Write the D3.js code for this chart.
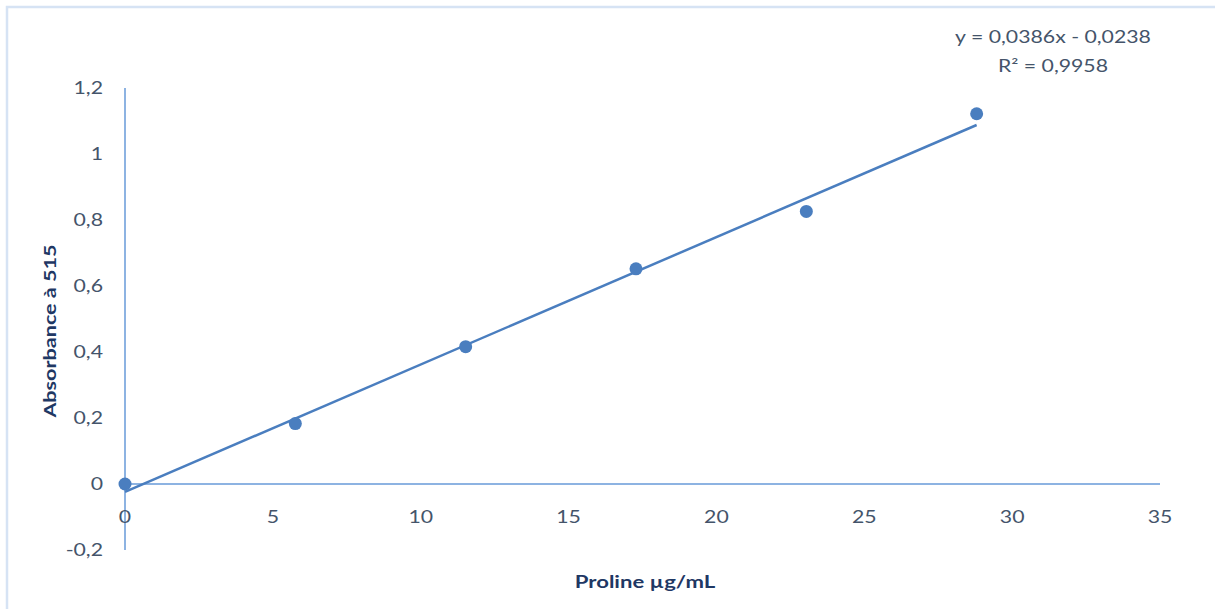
<!DOCTYPE html>
<html><head><meta charset="utf-8">
<script src="https://cdn.jsdelivr.net/npm/d3@7"></script>
<style>body{margin:0;background:#fff}</style>
</head><body>
<script>
const concentrations = [0, 5.76, 11.52, 17.28, 23.04, 28.8];
const absorbance = [0, 0.183, 0.416, 0.652, 0.826, 1.122];
const xTicks = [0, 5, 10, 15, 20, 25, 30, 35];
const yTicks = [-0.2, 0, 0.2, 0.4, 0.6, 0.8, 1, 1.2];
const slope = 0.0386, intercept = -0.0238;
const eqLabel = "y = 0,0386x - 0,0238";
const r2Label = "R² = 0,9958";
const xTitle = "Proline µg/mL";
const yTitle = "Absorbance à 515";

const W = 1215, H = 609;
const svg = d3.select("body").append("svg").attr("width", W).attr("height", H);
const font = "Lato, 'Open Sans', sans-serif";
const tickColor = "#44546A", titleColor = "#1F3864", axisColor = "#8DB3E2", dot = "#4A7EBF";
const SX = 1.25;

function label(g, tx, ty, txt, opts) {
  opts = opts || {};
  return g.append("text")
    .attr("transform", `translate(${tx},${ty})` + (opts.rotate ? ` rotate(${opts.rotate})` : "") + ` scale(${opts.sx || SX},1)`)
    .attr("dy", "0.35em").attr("text-anchor", opts.anchor || "middle")
    .attr("font-family", font).attr("font-size", opts.size || 17)
    .attr("font-weight", opts.bold ? "bold" : "normal")
    .attr("fill", opts.color || tickColor).text(txt);
}

// chart border
svg.append("path").attr("d", `M7,${H} V7 H${W}`).attr("fill","none").attr("stroke","#D6E3F4").attr("stroke-width",2.5);

const x = d3.scaleLinear().domain([0, 35]).range([125, 1160]);
const y = d3.scaleLinear().domain([-0.2, 1.2]).range([550, 88]);
const fmt = d => d3.format("~g")(d).replace(".", ",").replace("−","-");

// axes lines
svg.append("line").attr("x1", x(0)).attr("x2", x(0)).attr("y1", y(1.2)).attr("y2", y(-0.2))
  .attr("stroke", axisColor).attr("stroke-width", 2);
svg.append("line").attr("x1", x(0)).attr("x2", x(35)).attr("y1", y(0)).attr("y2", y(0))
  .attr("stroke", axisColor).attr("stroke-width", 2);

// tick labels
yTicks.forEach(d => label(svg, 103, y(d), fmt(d), {anchor: "end"}));
xTicks.forEach(d => label(svg, x(d), 517, fmt(d)));

// titles
label(svg, 645, 582, xTitle, {bold: true, color: titleColor, sx: 1.3});
label(svg, 50, 331, yTitle, {bold: true, color: titleColor, sx: 1.27, rotate: -90});

// trendline
const xmax = d3.max(concentrations);
svg.append("line").attr("x1", x(0)).attr("y1", y(intercept)).attr("x2", x(xmax)).attr("y2", y(slope*xmax+intercept))
  .attr("stroke", "#4A7EBF").attr("stroke-width", 2.5);

// points
svg.selectAll(".pt").data(concentrations).join("circle")
  .attr("cx", d => x(d)).attr("cy", (d,i) => y(absorbance[i])).attr("r", 6.5).attr("fill", dot);

// equation
label(svg, 1053, 37, eqLabel);
label(svg, 1053, 66, r2Label);
</script>
</body></html>
